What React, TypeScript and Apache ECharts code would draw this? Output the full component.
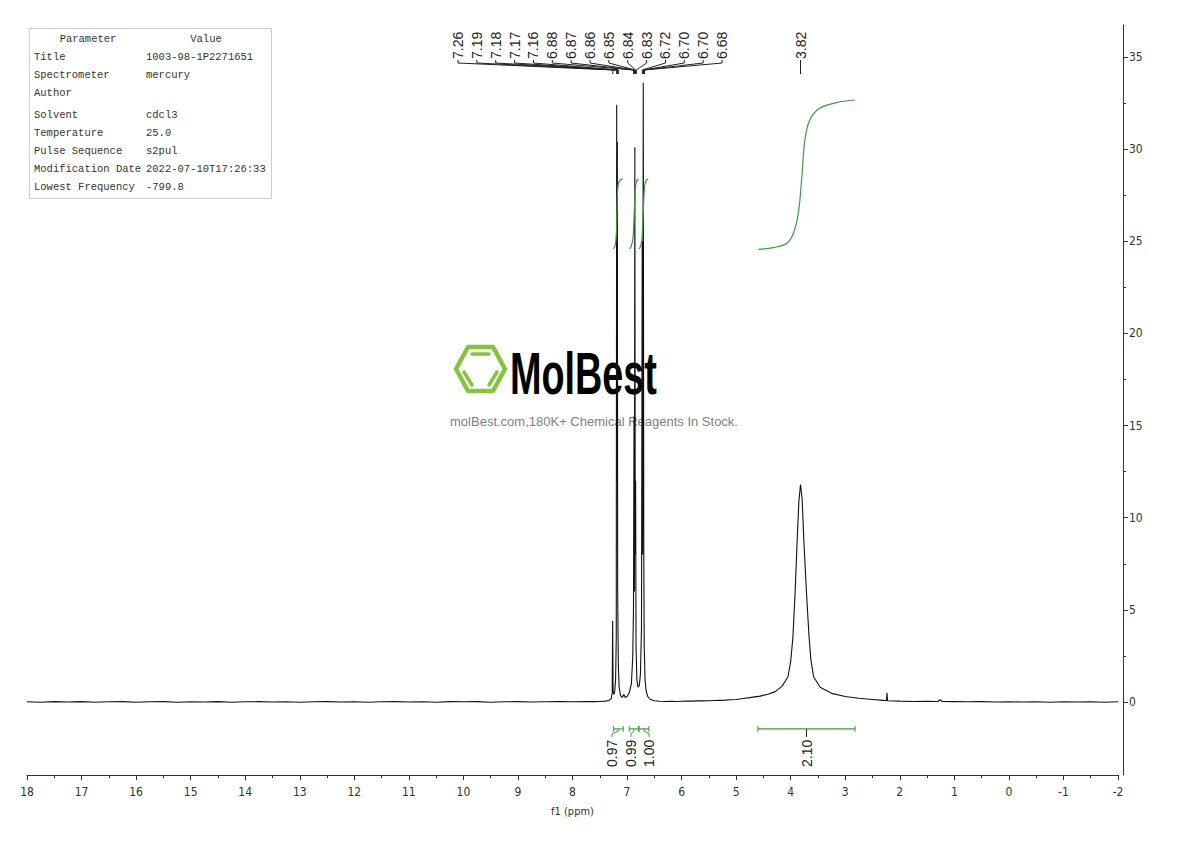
import React, { useEffect, useRef } from "react";
import * as echarts from "echarts";

// ---------- data ----------
const xMin = -2;
const xMax = 18;
const yMin = -3.96;
const yMax = 36.73;
const yLabelValues = [0, 5, 10, 15, 20, 25, 30, 35];
const yMinorValues = [2.5, 7.5, 12.5, 17.5, 22.5, 27.5, 32.5];

// spectrum (ppm, intensity)
const specPpm = [
  18.0, 17.75, 17.5, 17.25, 17.0, 16.75, 16.5, 16.25, 16.0, 15.75, 15.5, 15.25, 15.0, 14.75, 14.5, 14.25,
  14.0, 13.75, 13.5, 13.25, 13.0, 12.75, 12.5, 12.25, 12.0, 11.75, 11.5, 11.25, 11.0, 10.75, 10.5, 10.25,
  10.0, 9.75, 9.5, 9.25, 9.0, 8.75, 8.5, 8.25, 8.0, 7.75, 7.6,
  7.5, 7.4, 7.33, 7.29, 7.272, 7.264, 7.256, 7.24, 7.225, 7.21, 7.198, 7.19, 7.184, 7.178, 7.172, 7.16,
  7.145, 7.12, 7.09, 7.06, 7.03, 7.0, 6.96, 6.92, 6.895, 6.882, 6.872, 6.865, 6.857, 6.85, 6.843, 6.835,
  6.82, 6.8, 6.775, 6.755, 6.735, 6.722, 6.715, 6.703, 6.693, 6.685, 6.67, 6.65, 6.62, 6.58, 6.5, 6.4,
  6.3, 6.2, 6.1, 6.0, 5.9, 5.8, 5.7, 5.6, 5.5, 5.4, 5.3, 5.2, 5.1, 5.0,
  4.9, 4.75, 4.56, 4.42, 4.29, 4.16, 4.05, 4.0, 3.96, 3.92, 3.885, 3.85, 3.82, 3.79, 3.76, 3.71, 3.665,
  3.63, 3.58, 3.46, 3.25, 3.0, 2.75, 2.5, 2.3, 2.245, 2.235, 2.225, 2.0, 1.75, 1.5, 1.3, 1.26, 1.22, 1.0,
  0.75, 0.5, 0.25, 0.0, -0.25, -0.5, -0.75, -1.0, -1.25, -1.5, -1.75, -2.0,
];
const specInt = [
  0.01, -0.01, 0.02, 0.0, 0.02, -0.01, 0.01, 0.02, -0.01, 0.01, 0.02, -0.01, 0.01, 0.0, 0.02, -0.01,
  0.01, 0.02, 0.0, 0.01, -0.01, 0.01, 0.02, 0.0, 0.01, -0.01, 0.01, 0.02, 0.0, 0.01, -0.01, 0.02,
  0.01, 0.02, -0.01, 0.01, 0.02, 0.0, 0.01, 0.02, 0.01, 0.02, 0.02,
  0.03, 0.05, 0.08, 0.18, 0.5, 4.4, 0.6, 0.4, 0.6, 1.2, 3.5, 32.4, 12, 30.4, 6, 2.0,
  0.8, 0.35, 0.25, 0.4, 0.25, 0.3, 0.5, 1.0, 2.5, 5, 15.5, 6, 30.1, 8, 12, 3,
  1.2, 0.8, 0.9, 1.5, 4, 25.0, 8, 33.6, 8, 3, 1.2, 0.6, 0.3, 0.15, 0.07, 0.04,
  0.03, 0.04, 0.03, 0.04, 0.05, 0.05, 0.06, 0.06, 0.07, 0.08, 0.09, 0.1, 0.12, 0.14,
  0.18, 0.24, 0.32, 0.42, 0.55, 0.85, 1.37, 2.2, 3.5, 5.9, 8.5, 10.9, 11.8, 11.0, 8.8, 5.9, 3.6,
  2.3, 1.37, 0.8, 0.47, 0.3, 0.2, 0.14, 0.09, 0.08, 0.5, 0.07, 0.05, 0.03, 0.04, 0.03, 0.12, 0.03, 0.02,
  0.01, 0.02, 0.0, 0.01, 0.0, 0.01, -0.01, 0.01, 0.0, 0.01, -0.01, 0.01,
];

// integral curves
const intCurveVals = [24.58, 24.75, 25.2, 26.1, 27.2, 27.9, 28.2, 28.33, 28.38];
const int1Ppm = [7.25, 7.22, 7.2, 7.19, 7.18, 7.17, 7.15, 7.12, 7.08];
const int2Ppm = [6.95, 6.92, 6.89, 6.875, 6.86, 6.845, 6.83, 6.81, 6.79];
const int3Ppm = [6.78, 6.75, 6.725, 6.71, 6.695, 6.68, 6.665, 6.64, 6.61];
const int4Ppm = [4.594, 4.32, 4.07, 3.95, 3.86, 3.8, 3.74, 3.65, 3.47, 3.16, 2.82];
const int4Vals = [24.56, 24.65, 24.89, 25.43, 26.52, 28.32, 30.49, 31.58, 32.21, 32.52, 32.66];

// peak picking labels
const peakLabels = ["7.26", "7.19", "7.18", "7.17", "7.16", "6.88", "6.87", "6.86", "6.85", "6.84", "6.83", "6.72", "6.70", "6.70", "6.68"];
const singlePeakLabel = "3.82";

// integral regions
const integralLabels = ["0.97", "0.99", "1.00", "2.10"];
const integralFrom = [7.25, 6.96, 6.78, 4.6];
const integralTo = [7.07, 6.79, 6.6, 2.82];
const integralBarLevel = -1.46;

// parameter table
const paramNames = ["Title", "Spectrometer", "Author", "Solvent", "Temperature", "Pulse Sequence", "Modification Date", "Lowest Frequency"];
const paramValues = ["1003-98-1P2271651", "mercury", "", "cdcl3", "25.0", "s2pul", "2022-07-10T17:26:33", "-799.8"];

// ---------- styling ----------
const AXIS_FONT = "'Liberation Sans Narrow','DejaVu Sans Condensed','Roboto Condensed',sans-serif";
const GREEN = "#3f9a3f";
const INK = "#222";

export default function App() {
  const ref = useRef<HTMLDivElement>(null);

  useEffect(() => {
    document.body.style.margin = "0";
    const el = ref.current!;
    const chart = echarts.init(el, null, { renderer: "svg" });

    const greenLine = (ppm: number[], vals: number[]) => ({
      type: "line",
      data: ppm.map((p, i) => [p, vals[i]]),
      showSymbol: false,
      smooth: 0.35,
      silent: true,
      lineStyle: { color: GREEN, width: 1.2 },
      z: 3,
    });

    chart.setOption({
      animation: false,
      backgroundColor: "#fff",
      grid: { left: 27, right: 72, top: 25, bottom: 66, containLabel: false },
      xAxis: {
        type: "value",
        min: xMin,
        max: xMax,
        interval: 1,
        inverse: true,
        position: "bottom",
        axisLine: { show: true, onZero: false, lineStyle: { color: "#333", width: 1 } },
        axisTick: { show: true, length: 5, lineStyle: { color: "#333" } },
        minorTick: { show: true, splitNumber: 2, length: 3, lineStyle: { color: "#333" } },
        splitLine: { show: false },
        minorSplitLine: { show: false },
        axisLabel: { show: true, showMinLabel: true, showMaxLabel: true, fontFamily: AXIS_FONT, fontSize: 12, color: "#333", margin: 11 },
        name: "f1 (ppm)",
        nameLocation: "middle",
        nameGap: 31,
        nameTextStyle: { fontFamily: AXIS_FONT, fontSize: 11, color: "#333" },
      },
      yAxis: [
        {
          type: "value",
          min: yMin,
          max: yMax,
          position: "right",
          offset: 5,
          axisLine: { show: true, onZero: false, lineStyle: { color: "#333", width: 1 } },
          axisTick: { show: true, length: 5, customValues: yLabelValues, lineStyle: { color: "#333" } },
          axisLabel: { show: true, customValues: yLabelValues, margin: 6, fontFamily: AXIS_FONT, fontSize: 12, color: "#333" },
          splitLine: { show: false },
        },
        {
          type: "value",
          min: yMin,
          max: yMax,
          position: "right",
          offset: 5,
          axisLine: { show: false, onZero: false },
          axisTick: { show: true, length: 3, customValues: yMinorValues, lineStyle: { color: "#333" } },
          axisLabel: { show: false },
          splitLine: { show: false },
        },
      ],
      series: [
        {
          type: "line",
          data: specPpm.map((p, i) => [p, specInt[i]]),
          showSymbol: false,
          silent: true,
          lineStyle: { color: "#111", width: 1.1 },
          z: 2,
        },
        greenLine(int1Ppm, intCurveVals),
        greenLine(int2Ppm, intCurveVals),
        greenLine(int3Ppm, intCurveVals),
        greenLine(int4Ppm, int4Vals),
      ],
    });

    const toPx = (ppm: number, v: number) =>
      chart.convertToPixel({ xAxisIndex: 0, yAxisIndex: 0 }, [ppm, v]) as number[];

    const g: any[] = [];

    // parameter table
    g.push({ type: "rect", shape: { x: 29.5, y: 28.5, width: 242, height: 170 }, style: { fill: "#fff", stroke: "#ccc", lineWidth: 1 }, z: 10 });
    const tFont = "10.5px 'Liberation Mono', 'DejaVu Sans Mono', monospace";
    g.push({ type: "text", x: 88, y: 39, style: { text: "Parameter", font: tFont, fill: "#333", align: "center", verticalAlign: "middle" }, z: 11 });
    g.push({ type: "text", x: 206, y: 39, style: { text: "Value", font: tFont, fill: "#333", align: "center", verticalAlign: "middle" }, z: 11 });
    const rowY = [57, 75, 93, 115, 133, 151, 169, 187];
    paramNames.forEach((n, i) => {
      g.push({ type: "text", x: 34, y: rowY[i], style: { text: n, font: tFont, fill: "#333", align: "left", verticalAlign: "middle" }, z: 11 });
      g.push({ type: "text", x: 146, y: rowY[i], style: { text: paramValues[i], font: tFont, fill: "#333", align: "left", verticalAlign: "middle" }, z: 11 });
    });

    // peak labels
    const labelFont = "14px 'Liberation Sans', Arial, sans-serif";
    peakLabels.forEach((t, i) => {
      const lx = 458 + i * 18.86;
      const px = toPx(parseFloat(t), 0)[0];
      g.push({ type: "text", x: lx, y: 59, rotation: Math.PI / 2, style: { text: t, font: labelFont, fill: INK, align: "left", verticalAlign: "middle" }, z: 5 });
      g.push({ type: "polyline", shape: { points: [[lx, 60], [lx, 63], [px, 70], [px, 74]] }, style: { stroke: INK, lineWidth: 1, fill: "none" }, z: 5 });
    });
    {
      const px = toPx(parseFloat(singlePeakLabel), 0)[0];
      g.push({ type: "text", x: px, y: 59, rotation: Math.PI / 2, style: { text: singlePeakLabel, font: labelFont, fill: INK, align: "left", verticalAlign: "middle" }, z: 5 });
      g.push({ type: "polyline", shape: { points: [[px, 60], [px, 74]] }, style: { stroke: INK, lineWidth: 1, fill: "none" }, z: 5 });
    }

    // integral bars
    const labelX = [612, 631, 649, -1];
    integralLabels.forEach((t, i) => {
      const [x1, yb] = toPx(integralFrom[i], integralBarLevel);
      const x2 = toPx(integralTo[i], integralBarLevel)[0];
      const cx = (x1 + x2) / 2;
      const lx = labelX[i] < 0 ? cx : labelX[i];
      g.push({ type: "line", shape: { x1, y1: yb, x2, y2: yb }, style: { stroke: GREEN, lineWidth: 1.2 }, z: 5 });
      g.push({ type: "line", shape: { x1, y1: yb - 3, x2: x1, y2: yb + 3 }, style: { stroke: GREEN, lineWidth: 1 }, z: 5 });
      g.push({ type: "line", shape: { x1: x2, y1: yb - 3, x2, y2: yb + 3 }, style: { stroke: GREEN, lineWidth: 1 }, z: 5 });
      g.push({ type: "polyline", shape: { points: [[cx, yb], [cx, yb + 2], [lx, yb + 5], [lx, yb + 8]] }, style: { stroke: labelX[i] < 0 ? INK : GREEN, lineWidth: 1, fill: "none" }, z: 5 });
      g.push({ type: "text", x: lx, y: 767, rotation: Math.PI / 2, style: { text: t, font: labelFont, fill: INK, align: "left", verticalAlign: "middle" }, z: 5 });
    });

    // watermark logo
    const LOGO_GREEN = "#86c440";
    g.push({
      type: "polygon",
      shape: { points: [[456, 369], [468, 347], [493, 347], [505, 369], [493, 391], [468, 391]] },
      style: { fill: "none", stroke: LOGO_GREEN, lineWidth: 4.5, lineJoin: "round" },
      z: 1,
    });
    g.push({ type: "line", shape: { x1: 472, y1: 354, x2: 489, y2: 354 }, style: { stroke: LOGO_GREEN, lineWidth: 3.5, lineCap: "round" }, z: 1 });
    g.push({ type: "line", shape: { x1: 464, y1: 372, x2: 472, y2: 385 }, style: { stroke: LOGO_GREEN, lineWidth: 3.5, lineCap: "round" }, z: 1 });
    g.push({ type: "line", shape: { x1: 497, y1: 372, x2: 489, y2: 385 }, style: { stroke: LOGO_GREEN, lineWidth: 3.5, lineCap: "round" }, z: 1 });
    g.push({
      type: "text",
      x: 510,
      y: 374,
      scaleX: 0.63,
      style: { text: "MolBest", font: "bold 60px 'Liberation Sans', Arial, sans-serif", fill: "#000", align: "left", verticalAlign: "middle" },
      z: 1,
    });
    g.push({
      type: "text",
      x: 594,
      y: 421,
      style: { text: "molBest.com,180K+ Chemical Reagents In Stock.", font: "13px 'Liberation Sans', Arial, sans-serif", fill: "#808080", align: "center", verticalAlign: "middle" },
      z: 1,
    });

    chart.setOption({ graphic: g });

    return () => chart.dispose();
  }, []);

  return <div ref={ref} style={{ width: 1190, height: 841 }} />;
}
